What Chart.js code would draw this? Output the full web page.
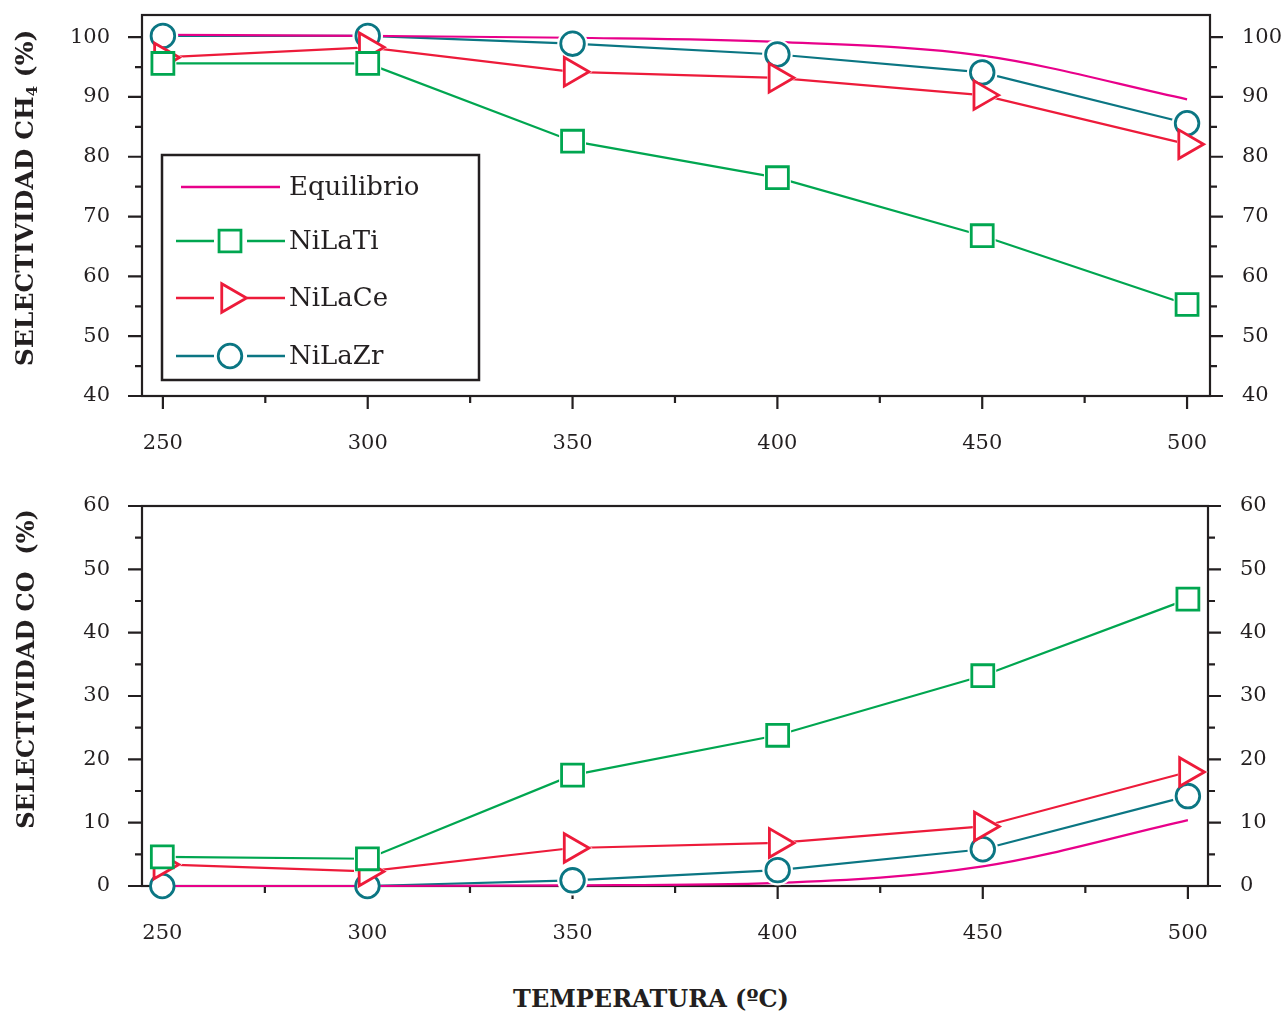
<!DOCTYPE html>
<html>
<head>
<meta charset="utf-8">
<script src="https://cdn.jsdelivr.net/npm/chart.js@4.4.0/dist/chart.umd.min.js"></script>
<style>
  body { margin: 0; background: #fff; }
  #wrap { position: relative; width: 1287px; height: 1012px; overflow: hidden; font-family: "DejaVu Serif", serif; color: #231f20; }
  canvas { position: absolute; left: 0; }
  #topChart { top: -7px; }
  #botChart { top: 480px; }
  .ttl { position: absolute; font-weight: bold; font-size: 24px; white-space: nowrap; transform: translate(-50%, -50%); }
  .rot { transform: translate(-50%, -50%) rotate(-90deg); }
  sub { font-size: 15px; vertical-align: -4px; }
</style>
</head>
<body>
<div id="wrap">
  <canvas id="topChart" width="1287" height="477"></canvas>
  <canvas id="botChart" width="1287" height="480"></canvas>
  <div class="ttl rot" style="left:25px;top:198px;font-size:25px">SELECTIVIDAD CH<sub>4</sub> (%)</div>
  <div class="ttl rot" style="left:25px;top:669px">SELECTIVIDAD CO&nbsp; (%)</div>
  <div class="ttl" style="left:651px;top:998px">TEMPERATURA (ºC)</div>
</div>
<script>
// temperatures (x) and read-off values
const temps = [250, 300, 350, 400, 450, 500];
const ch4Equil = [100.4, 100.2, 99.9, 99.2, 96.9, 89.6];
const ch4Ti = [95.6, 95.6, 82.6, 76.5, 66.8, 55.3];
const ch4Ce = [96.6, 98.3, 94.2, 93.2, 90.3, 82.1];
const ch4Zr = [100.2, 100.2, 98.9, 97.1, 94.1, 85.6];
const coEquil = [0, 0, 0.1, 0.5, 3.1, 10.4];
const coTi = [4.6, 4.3, 17.5, 23.8, 33.2, 45.3];
const coCe = [3.4, 2.3, 6.0, 6.8, 9.4, 18.0];
const coZr = [0, 0, 0.9, 2.5, 5.8, 14.2];
const xLabels = [250, 300, 350, 400, 450, 500];
const ch4Labels = [40, 50, 60, 70, 80, 90, 100];
const coLabels = [0, 10, 20, 30, 40, 50, 60];

const INK = '#231f20';
const FONT = 'DejaVu Serif';
const series = [
  { name: 'Equilibrio', color: '#e8008a', style: null, smooth: true },
  { name: 'NiLaTi', color: '#00a650', style: 'rect', r: 15.5 },
  { name: 'NiLaCe', color: '#ed1b3a', style: 'triangle', rot: 90, r: 16.5 },
  { name: 'NiLaZr', color: '#0b7683', style: 'circle', r: 11.8 }
];

function marker(ctx, style, x, y, r) {
  ctx.beginPath();
  if (style === 'rect') {
    const h = r * Math.SQRT1_2;
    ctx.rect(x - h, y - h, 2 * h, 2 * h);
  } else if (style === 'circle') {
    ctx.arc(x, y, r, 0, Math.PI * 2);
  } else {
    for (let k = 0; k < 3; k++) {
      const a = Math.PI / 2 + k * 2 * Math.PI / 3;
      const px = x + Math.sin(a) * r, py = y - Math.cos(a) * r;
      if (k) ctx.lineTo(px, py); else ctx.moveTo(px, py);
    }
    ctx.closePath();
  }
  ctx.fill();
  ctx.stroke();
}

function buildSets(valueLists, yMin) {
  const sets = [];
  series.forEach((s, i) => {
    const pts = temps.map((t, k) => ({ x: t, y: valueLists[i][k] }));
    sets.push({
      data: pts, borderColor: s.color, borderWidth: 2.2, pointRadius: 0, order: 10,
      cubicInterpolationMode: s.smooth ? 'monotone' : 'default', tension: 0, clip: false
    });
    if (!s.style) return;
    sets.push({
      data: pts, showLine: false, pointStyle: s.style, pointRotation: s.rot || 0,
      pointRadius: c => (c.raw && c.raw.y <= yMin ? 0 : s.r + 3.5),
      pointBorderWidth: 0, pointBackgroundColor: '#fff', order: 5, clip: false
    });
    sets.push({
      data: pts, showLine: false, pointStyle: s.style, pointRotation: s.rot || 0,
      pointRadius: s.r, pointBorderWidth: 2.8, pointBorderColor: s.color,
      pointBackgroundColor: '#fff', order: 1 + i * 0.1, clip: false
    });
  });
  return sets;
}

const framePlugin = {
  id: 'frame',
  beforeDatasetsDraw(chart) {
    const { ctx, chartArea: a, scales } = chart;
    const yMin = scales.y.min;
    ctx.save();
    ctx.strokeStyle = INK;
    ctx.lineWidth = 2.2;
    ctx.strokeRect(a.left, a.top, a.right - a.left, a.bottom - a.top);
    ctx.beginPath();
    for (let v = 250; v <= 500; v += 25) {
      const px = scales.x.getPixelForValue(v);
      ctx.moveTo(px, a.bottom);
      ctx.lineTo(px, a.bottom + (v % 50 ? 7 : 13));
    }
    for (let v = yMin; v <= scales.y.max; v += 5) {
      const py = scales.y.getPixelForValue(v);
      const major = (v % 10) === 0;
      ctx.moveTo(a.left, py);
      ctx.lineTo(a.left - (major ? 14 : 7), py);
      ctx.moveTo(a.right, py);
      ctx.lineTo(a.right + (major ? 13 : 7), py);
    }
    ctx.stroke();
    ctx.restore();
  }
};

const legendPlugin = {
  id: 'boxLegend',
  afterDraw(chart) {
    if (chart.canvas.id !== 'topChart') return;
    const ctx = chart.ctx;
    const dy = 7; // canvas sits 7px above the page top
    ctx.save();
    ctx.translate(0, dy);
    ctx.fillStyle = '#fff';
    ctx.fillRect(162, 155, 317, 225);
    ctx.strokeStyle = INK;
    ctx.lineWidth = 2.5;
    ctx.strokeRect(162, 155, 317, 225);
    const rows = [187, 241, 298, 356];
    series.forEach((s, i) => {
      const y = rows[i];
      ctx.strokeStyle = s.color;
      ctx.lineWidth = 2.4;
      ctx.beginPath();
      if (!s.style) {
        ctx.moveTo(181, y); ctx.lineTo(280, y);
      } else {
        ctx.moveTo(176, y); ctx.lineTo(214, y);
        ctx.moveTo(247, y); ctx.lineTo(285, y);
      }
      ctx.stroke();
      if (s.style) {
        ctx.fillStyle = '#fff';
        ctx.lineWidth = 2.8;
        marker(ctx, s.style, 230, y, s.r);
      }
      ctx.fillStyle = INK;
      ctx.font = '26px "' + FONT + '"';
      ctx.textBaseline = 'middle';
      ctx.textAlign = 'left';
      ctx.fillText(s.name, 289, y + 1);
    });
    ctx.restore();
  }
};

function makeChart(id, lists, yMin, yMax, yTicks, xMin, xMax, topPad, rightW) {
  const tickFont = { family: FONT, size: 21 };
  // labels are pushed away from the frame by an invisible tick mark, so the
  // layout does not reserve extra top room for tick padding
  const yAxis = (pos, w) => ({
    type: 'linear', position: pos, display: true, min: yMin, max: yMax,
    afterBuildTicks: s => { s.ticks = yTicks.map(v => ({ value: v })); },
    ticks: { padding: 0, font: tickFont, color: INK },
    grid: { display: true, drawOnChartArea: false, drawTicks: true, tickLength: 32, color: 'rgba(0,0,0,0)' },
    border: { display: false },
    afterFit: s => { s.width = w; }
  });
  return new Chart(document.getElementById(id), {
    type: 'line',
    data: { datasets: buildSets(lists, yMin) },
    options: {
      responsive: false, animation: false, events: [],
      layout: { padding: { top: topPad, left: 0, right: 0, bottom: 0 } },
      plugins: { legend: { display: false }, tooltip: { enabled: false } },
      scales: {
        x: {
          type: 'linear', min: xMin, max: xMax,
          afterBuildTicks: s => { s.ticks = xLabels.map(v => ({ value: v })); },
          ticks: { padding: 35, font: tickFont, color: INK },
          grid: { display: false, drawTicks: false }, border: { display: false },
          afterFit: s => { s.height = 74; }
        },
        y: yAxis('left', 142),
        y2: yAxis('right', rightW)
      }
    },
    plugins: [framePlugin, legendPlugin]
  });
}

makeChart('topChart', [ch4Equil, ch4Ti, ch4Ce, ch4Zr], 40, 103.7, ch4Labels, 244.9, 505.6, 22, 77);
makeChart('botChart', [coEquil, coTi, coCe, coZr], 0, 60, coLabels, 245.05, 504.9, 26, 79);
</script>
</body>
</html>
